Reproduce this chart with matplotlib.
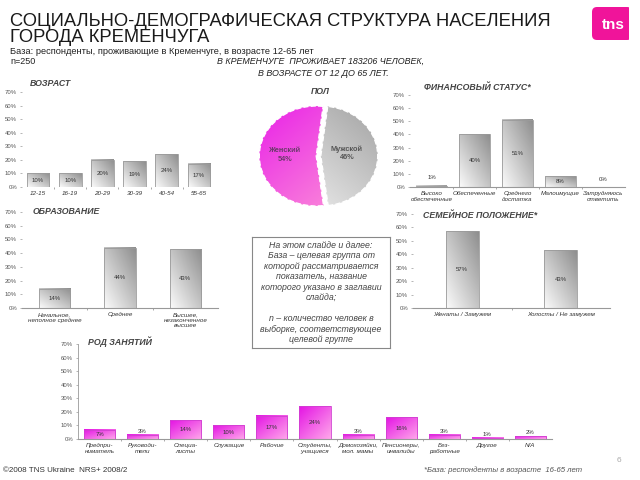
import matplotlib
matplotlib.use("Agg")
import matplotlib.pyplot as plt
import numpy as np
from matplotlib.patches import FancyBboxPatch, Rectangle

plt.rcParams['font.family'] = ['Liberation Sans', 'DejaVu Sans']

# ---- data ----
age_labels = ['12-15', '16-19', '20-29', '30-39', '40-54', '55-65']
age_values = [10, 10, 20, 19, 24, 17]

edu_labels = ['Начальное,\nнеполное среднее', 'Среднее', 'Высшее,\nнезаконченное\nвысшее']
edu_values = [14, 44, 43]

fin_labels = ['Высоко\nобеспеченные', 'Обеспеченные', 'Среднего\nдостатка',
              'Малоимущие', 'Затрудняюсь\nответить']
fin_values = [1, 40, 51, 8, 0]

fam_labels = ['Женаты / Замужем', 'Холосты / Не замужем']
fam_values = [57, 43]

job_labels = ['Предпри-\nниматель', 'Руководи-\nтели', 'Специа-\nлисты', 'Служащие',
              'Рабочие', 'Студенты,\nучащиеся', 'Домохозяйки,\nмол. мамы',
              'Пенсионеры,\nинвалиды', 'Без-\nработные', 'Другое', 'N/A']
job_values = [7, 3, 14, 10, 17, 24, 3, 16, 3, 1, 2]

sex_labels = ['Мужской', 'Женский']
sex_values = [46, 54]

W, H = 640, 480
fig = plt.figure(figsize=(6.4, 4.8), dpi=100)
fig.patch.set_facecolor('white')


def px_axes(x0, y0, x1, y1):
    return fig.add_axes([x0 / W, 1 - y1 / H, (x1 - x0) / W, (y1 - y0) / H])


def ftext(x, y, s, **kw):
    return fig.text(x / W, 1 - y / H, s, **kw)


def gradient(c0, c1, mode, n=48):
    c0 = np.array(matplotlib.colors.to_rgb(c0))
    c1 = np.array(matplotlib.colors.to_rgb(c1))
    xx, yy = np.meshgrid(np.linspace(0, 1, n), np.linspace(0, 1, n))
    if mode == 'gray':      # light bottom-left -> dark top-right
        t = (xx + yy) / 2
    else:                   # strong top-left -> light bottom-right
        t = (xx + (1 - yy)) / 2
    return c0[None, None, :] * (1 - t[..., None]) + c1[None, None, :] * t[..., None]


GRAY_IMG = gradient('#fbfbfb', '#8e8e8e', 'gray')
PINK_IMG = gradient('#e414e4', '#ffa8ea', 'pink')


def bar_chart(box, labels, values, width, style='gray', small_off=2.5,
              baseline=True, left_line=False, lab_size=4.5):
    ax = px_axes(*box)
    n = len(values)
    img = GRAY_IMG if style == 'gray' else PINK_IMG
    edge = '#9a9a9a' if style == 'gray' else '#d040d0'
    for i, v in enumerate(values):
        if v > 0:
            ax.imshow(img, extent=(i - width / 2, i + width / 2, 0, v),
                      origin='lower', aspect='auto', zorder=2, interpolation='bilinear')
            ax.add_patch(Rectangle((i - width / 2, 0), width, v, fill=False,
                                   edgecolor=edge, linewidth=0.6, zorder=3))
        ty = v / 2 if v >= 6 else v + small_off
        ax.text(i, ty, f'{v}%', ha='center', va='center', fontsize=4.3,
                color='#333333', zorder=4)
    ax.set_xlim(-0.5, n - 0.5)
    ax.set_ylim(0, 70)
    ax.set_yticks(np.arange(0, 71, 10))
    ax.set_yticklabels([f'{t}%' for t in range(0, 71, 10)])
    ax.set_xticks(range(n))
    ax.set_xticklabels(labels, fontsize=lab_size, style='italic', color='#333333',
                       linespacing=1.1)
    ax.set_xticks(np.arange(0.5, n - 0.5, 1), minor=True)
    ax.tick_params(axis='x', which='major', length=0, pad=3)
    ax.tick_params(axis='x', which='minor', length=1.5, color='#888888', width=0.5)
    ax.tick_params(axis='y', labelsize=4.3, labelcolor='#555555', length=1.5,
                   color='#999999', width=0.5, pad=2)
    for s in ['top', 'right']:
        ax.spines[s].set_visible(False)
    ax.spines['left'].set_visible(left_line)
    ax.spines['left'].set_color('#999999')
    ax.spines['left'].set_linewidth(0.6)
    ax.spines['bottom'].set_visible(baseline)
    ax.spines['bottom'].set_color('#999999')
    ax.spines['bottom'].set_linewidth(0.8)
    ax.set_facecolor('none')
    return ax


# ---- header ----
ftext(10, 13, 'СОЦИАЛЬНО-ДЕМОГРАФИЧЕСКАЯ СТРУКТУРА НАСЕЛЕНИЯ\nГОРОДА КРЕМЕНЧУГА',
      fontsize=13.2, color='#1a1a1a', va='top', ha='left', linespacing=0.92)
ftext(10, 51, 'База: респонденты, проживающие в Кременчуге, в возрасте 12-65 лет',
      fontsize=6.7, color='#222222', va='center')
ftext(10, 62, 'n=250', fontsize=6.5, color='#222222', va='center')
ftext(321, 61, 'В КРЕМЕНЧУГЕ  ПРОЖИВАЕТ 183206 ЧЕЛОВЕК,', fontsize=6.4,
      style='italic', color='#222222', ha='center', va='center')
ftext(323, 74, 'В ВОЗРАСТЕ ОТ 12 ДО 65 ЛЕТ.', fontsize=6.4,
      style='italic', color='#222222', ha='center', va='center')

# tns logo
logo_ax = px_axes(592, 7, 629, 40)
logo_ax.set_xlim(0, 37)
logo_ax.set_ylim(0, 33)
logo_ax.axis('off')
logo_ax.add_patch(FancyBboxPatch((0, 0), 40, 33, boxstyle='round,pad=0,rounding_size=5',
                                 facecolor='#f0149a', edgecolor='none', clip_on=True))
logo_ax.text(10, 15, 'tns', color='white', fontsize=11, fontweight='bold',
             ha='left', va='center', clip_on=True)

# ---- chart titles ----
tkw = dict(fontsize=6.3, fontweight='bold', style='italic', color='#444444', va='center')
ftext(30, 84, 'ВОЗРАСТ', **tkw)
ftext(33, 211, 'ОБРАЗОВАНИЕ', **tkw)
ftext(424, 88, 'ФИНАНСОВЫЙ СТАТУС*', **tkw)
ftext(423, 215, 'СЕМЕЙНОЕ ПОЛОЖЕНИЕ*', **tkw)
ftext(88, 342, 'РОД ЗАНЯТИЙ', **tkw)
ftext(320, 92, 'ПОЛ', ha='center', **tkw)

# ---- bar charts ----
bar_chart((22, 92, 215, 187), age_labels, age_values, 0.7, baseline=False)
bar_chart((22, 212, 218, 308), edu_labels, edu_values, 0.48)
bar_chart((410, 95, 625, 187), fin_labels, fin_values, 0.7, small_off=6)
bar_chart((413, 214, 610, 308), fam_labels, fam_values, 0.33)
bar_chart((78, 344, 552, 439), job_labels, job_values, 0.72, style='pink',
          small_off=2.5, left_line=True)

# ---- pie ----
pax = px_axes(257, 103, 380, 209)
wedges, _ = pax.pie(sex_values, startangle=83, counterclock=False,
                    explode=(0.04, 0.04), radius=1,
                    wedgeprops=dict(edgecolor='white', linewidth=1.0, linestyle='--'))
pax.set_aspect('auto')
pax.set_xlim(-1.08, 1.08)
pax.set_ylim(-1.06, 1.06)
male_img = gradient('#fdfdfd', '#a0a0a0', 'gray')
female_img = gradient('#e81ee8', '#ff9ed6', 'pink')
for wdg, img in zip(wedges, [male_img, female_img]):
    wdg.set_facecolor('none')
    im = pax.imshow(img, extent=(-1.1, 1.1, -1.1, 1.1), origin='lower',
                    aspect='auto', zorder=0, interpolation='bilinear')
    im.set_clip_path(wdg)
pax.text(0.5, 0.05, 'Мужской\n46%', ha='center', va='center', fontsize=5.3,
         fontweight='bold', color='#555555', linespacing=1.3)
pax.text(-0.58, 0.02, 'Женский\n54%', ha='center', va='center', fontsize=5.3,
         fontweight='bold', color='#6a3a6a', linespacing=1.3)

# ---- note box ----
note = ('На этом слайде и далее:\nБаза – целевая группа от\nкоторой рассматривается\n'
        'показатель, название\nкоторого указано в заглавии\nслайда;\n\n'
        'n – количество человек в\nвыборке, соответствующее\nцелевой группе')
nax = px_axes(252, 237, 390, 348)
nax.set_xticks([])
nax.set_yticks([])
for s in nax.spines.values():
    s.set_color('#888888')
    s.set_linewidth(0.8)
nax.text(0.5, 0.5, note, ha='center', va='center', fontsize=6.3, style='italic',
         color='#444444', linespacing=1.22, transform=nax.transAxes)

# ---- footer ----
ftext(3, 471, '©2008 TNS Ukraine  NRS+ 2008/2', fontsize=5.8, color='#333333', va='center')
ftext(424, 470, '*База: респонденты в возрасте  16-65 лет', fontsize=5.6,
      style='italic', color='#555555', va='center')
ftext(617, 460, '6', fontsize=6, color='#aaaaaa', va='center')

fig.savefig('out.png', dpi=100)
